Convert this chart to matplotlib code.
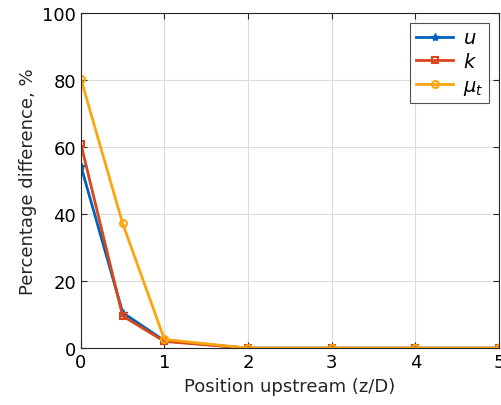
import matplotlib
matplotlib.use("Agg")
import matplotlib.pyplot as plt

# positions upstream (z/D)
pos = [0, 0.5, 1, 2, 3, 4, 5]
u_diff = [54.4, 10.6, 2.2, 0, 0, 0, 0]
k_diff = [61.0, 9.6, 2.0, 0, 0, 0, 0]
mut_diff = [80.4, 37.2, 2.6, 0, 0, 0, 0]

blue = '#0062bd'
red = '#d9461a'
yellow = '#fda50f'

plt.rcParams['font.family'] = 'DejaVu Sans'
fig = plt.figure(figsize=(5.02, 4.06), dpi=100)
ax = fig.add_axes([0.161, 0.140, 0.833, 0.826])

ax.plot(pos, u_diff, color=blue, lw=2, marker='*', ms=6, label='$u$')
ax.plot(pos, k_diff, color=red, lw=2, marker='s', ms=5, mfc='none', mew=1.5, label='$k$')
ax.plot(pos, mut_diff, color=yellow, lw=2, marker='o', ms=5, mfc='none', mew=1.5, label=r'$\mu_t$')

ax.set_xlim(0, 5)
ax.set_ylim(0, 100)
ax.set_xticks([0, 1, 2, 3, 4, 5])
ax.set_yticks([0, 20, 40, 60, 80, 100])
ax.grid(True, color='#dcdcdc', lw=0.8)
ax.set_axisbelow(True)
ax.tick_params(labelsize=13, direction='in', length=4, color='#262626', top=True, right=True)
for s in ax.spines.values():
    s.set_color('#262626')
ax.set_xlabel('Position upstream (z/D)', fontsize=13, color='#262626')
ax.set_ylabel('Percentage difference, %', fontsize=13, color='#262626')

leg = ax.legend(loc='upper right', fontsize=14, fancybox=False, edgecolor='#262626',
                handlelength=1.9, handletextpad=0.5, borderaxespad=0.5,
                labelspacing=0.25, borderpad=0.3)
leg.get_frame().set_linewidth(0.8)

fig.savefig('out.png', dpi=100)
